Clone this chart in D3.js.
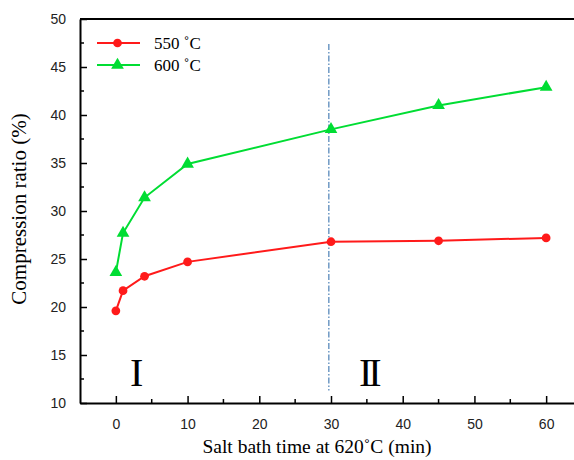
<!DOCTYPE html>
<html>
<head>
<meta charset="utf-8">
<script src="https://cdn.jsdelivr.net/npm/d3@7"></script>
<style>
  body { margin: 0; background: #fff; }
  svg { display: block; }
</style>
</head>
<body>
<div id="wrapper"></div>
<script>
// data
const times = [0, 1, 4, 10, 30, 45, 60]
const ratio550 = [19.6, 21.7, 23.2, 24.7, 26.8, 26.9, 27.2]
const ratio600 = [23.6, 27.7, 31.4, 34.9, 38.5, 41.0, 42.9]
const seriesNames = ['550 ˚C', '600 ˚C']
const xTicks = [0, 10, 20, 30, 40, 50, 60]
const yTicks = [10, 15, 20, 25, 30, 35, 40, 45, 50]
const dividerTime = 29.7

function draw() {
  const dimensions = {
    width: 574,
    height: 460,
    margin: { top: 19, right: -8, bottom: 57, left: 80 },
  }
  dimensions.boundedWidth = dimensions.width - dimensions.margin.left - dimensions.margin.right
  dimensions.boundedHeight = dimensions.height - dimensions.margin.top - dimensions.margin.bottom

  const wrapper = d3.select('#wrapper').append('svg')
    .attr('width', dimensions.width)
    .attr('height', dimensions.height)

  const bounds = wrapper.append('g')
    .attr('transform', `translate(${dimensions.margin.left}, ${dimensions.margin.top})`)

  const xScale = d3.scaleLinear().domain([-5, 65]).range([0, dimensions.boundedWidth])
  const yScale = d3.scaleLinear().domain([10, 50]).range([dimensions.boundedHeight, 0])

  const tickFont = 'Liberation Sans, Arial, sans-serif'
  const serif = 'Liberation Serif, Times New Roman, serif'

  // minor ticks
  const xMinor = d3.range(5, 65, 10)
  const yMinor = d3.range(12.5, 50, 5)

  const xAxis = bounds.append('g')
    .attr('transform', `translate(0, ${dimensions.boundedHeight})`)
    .call(d3.axisBottom(xScale).tickValues(xTicks).tickSizeInner(-7).tickSizeOuter(0).tickPadding(16))
  xAxis.append('g').selectAll('line').data(xMinor).join('line')
    .attr('x1', (d) => xScale(d)).attr('x2', (d) => xScale(d))
    .attr('y1', 0).attr('y2', -4)
    .attr('stroke', '#000').attr('stroke-width', 1.5)

  const yAxis = bounds.append('g')
    .call(d3.axisLeft(yScale).tickValues(yTicks).tickSizeInner(-7).tickSizeOuter(0).tickPadding(14))
  yAxis.append('g').selectAll('line').data(yMinor).join('line')
    .attr('y1', (d) => yScale(d)).attr('y2', (d) => yScale(d))
    .attr('x1', 0).attr('x2', 4)
    .attr('stroke', '#000').attr('stroke-width', 1.5)

  ;[xAxis, yAxis].forEach((ax) => {
    ax.select('.domain').attr('stroke', '#000').attr('stroke-width', 2)
    ax.selectAll('.tick line').attr('stroke', '#000').attr('stroke-width', 1.5)
    ax.selectAll('.tick text').style('font-family', tickFont).style('font-size', '14px').attr('fill', '#222')
  })
  yAxis.selectAll('.tick text').attr('dy', '0.35em')

  // top frame
  bounds.append('line')
    .attr('x1', 0).attr('x2', dimensions.boundedWidth)
    .attr('y1', 0).attr('y2', 0)
    .attr('stroke', '#000').attr('stroke-width', 2)

  // divider
  bounds.append('line')
    .attr('x1', xScale(dividerTime)).attr('x2', xScale(dividerTime))
    .attr('y1', yScale(47.4)).attr('y2', yScale(11.3))
    .attr('stroke', '#4a7fb5').attr('stroke-width', 1.2)
    .attr('stroke-dasharray', '6 2 1.5 2')

  const seriesData = [
    { name: seriesNames[0], color: '#ff1a1a', shape: d3.symbolCircle, values: ratio550 },
    { name: seriesNames[1], color: '#00dd33', shape: d3.symbolTriangle, values: ratio600 },
  ]

  const line = d3.line().x((d) => xScale(d.t)).y((d) => yScale(d.v))

  seriesData.forEach((s) => {
    const pts = times.map((t, i) => ({ t: t, v: s.values[i] }))
    bounds.append('path')
      .datum(pts)
      .attr('fill', 'none')
      .attr('stroke', s.color)
      .attr('stroke-width', 2)
      .attr('d', line)
    bounds.append('g').selectAll('path').data(pts).join('path')
      .attr('transform', (d) => `translate(${xScale(d.t)}, ${yScale(d.v)})`)
      .attr('d', d3.symbol().type(s.shape).size(s.shape === d3.symbolCircle ? 60 : 70))
      .attr('fill', s.color)
  })

  // legend
  const legend = bounds.append('g').attr('transform', 'translate(17, 24)')
  seriesData.forEach((s, i) => {
    const g = legend.append('g').attr('transform', `translate(0, ${i * 22})`)
    g.append('line').attr('x1', 0).attr('x2', 43).attr('y1', 0).attr('y2', 0)
      .attr('stroke', s.color).attr('stroke-width', 2)
    g.append('path').attr('transform', 'translate(20.5, 0)')
      .attr('d', d3.symbol().type(s.shape).size(s.shape === d3.symbolCircle ? 60 : 70))
      .attr('fill', s.color)
    g.append('text').attr('x', 57).attr('y', 6)
      .style('font-family', serif).style('font-size', '17px')
      .text(s.name)
  })

  // region labels
  bounds.append('text').attr('x', xScale(2.9)).attr('y', yScale(11.8))
    .attr('text-anchor', 'middle')
    .style('font-family', serif).style('font-size', '40px')
    .text('I')
  bounds.append('text').attr('x', xScale(35.2)).attr('y', yScale(11.8))
    .attr('text-anchor', 'middle')
    .style('font-family', serif).style('font-size', '40px')
    .style('letter-spacing', '-4px')
    .text('II')

  // axis titles
  wrapper.append('text')
    .attr('transform', `translate(26, ${dimensions.margin.top + dimensions.boundedHeight / 2 - 2}) rotate(-90)`)
    .attr('text-anchor', 'middle')
    .style('font-family', serif).style('font-size', '21px')
    .text('Compression  ratio  (%)')
  wrapper.append('text')
    .attr('x', 317).attr('y', 453)
    .attr('text-anchor', 'middle')
    .style('font-family', serif).style('font-size', '19.5px')
    .text('Salt bath time at 620˚C (min)')
}
draw()
</script>
</body>
</html>
